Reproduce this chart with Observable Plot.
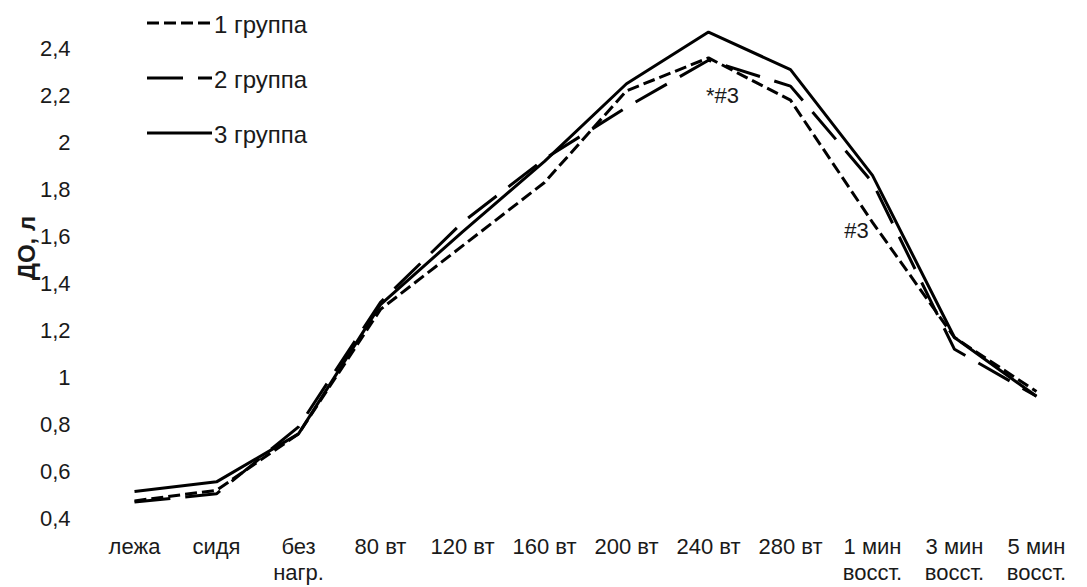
<!DOCTYPE html>
<html>
<head>
<meta charset="utf-8">
<script src="https://cdn.jsdelivr.net/npm/d3@7"></script>
<script src="https://cdn.jsdelivr.net/npm/@observablehq/plot@0.6"></script>
<style>
  html, body { margin: 0; padding: 0; background: #fff; }
  #wrap { position: relative; width: 1087px; height: 587px; overflow: hidden; }
  #legend { position: absolute; left: 0; top: 0; }
</style>
</head>
<body>
<div id="wrap"></div>
<script>
const categories = ["лежа", "сидя", "без\nнагр.", "80 вт", "120 вт", "160 вт", "200 вт", "240 вт", "280 вт", "1 мин\nвосст.", "3 мин\nвосст.", "5 мин\nвосст."];
const seriesNames = ["1 группа", "2 группа", "3 группа"];
const group1 = [0.475, 0.52, 0.76, 1.29, 1.56, 1.83, 2.22, 2.36, 2.18, 1.66, 1.17, 0.94];
const group2 = [0.47, 0.505, 0.79, 1.32, 1.66, 1.93, 2.15, 2.35, 2.24, 1.83, 1.12, 0.92];
const group3 = [0.515, 0.556, 0.76, 1.31, 1.62, 1.92, 2.25, 2.47, 2.31, 1.86, 1.17, 0.92];
const yTicks = [0.4, 0.6, 0.8, 1.0, 1.2, 1.4, 1.6, 1.8, 2.0, 2.2, 2.4];
const annotations = [
  {cat: "240 вт", v: 2.20, text: "*#3", dx: 14},
  {cat: "1 мин\nвосст.", v: 1.625, text: "#3", dx: -16}
];
const yTitle = "ДО, л";

const dashes = ["12,5", "36,15", null];
const allSeries = [group1, group2, group3];
const rows = (vals, name) => vals.map((v, i) => ({cat: categories[i], v, group: name}));
const fmt = d => String(+d.toFixed(1)).replace(".", ",");
const FONT = "'Liberation Sans', Arial, sans-serif";
const INK = "#1a1a1a";

const lineMarks = allSeries.map((vals, k) =>
  Plot.lineY(rows(vals, seriesNames[k]), {
    x: "cat", y: "v", stroke: "black", strokeWidth: 3,
    strokeDasharray: dashes[k] || undefined, strokeLinejoin: "miter", strokeLinecap: "butt"
  })
);

const chart = Plot.plot({
  width: 1087,
  height: 587,
  marginLeft: 93,
  marginRight: 10,
  marginTop: 48,
  marginBottom: 69,
  style: {fontFamily: FONT, fontSize: "22px", color: INK, background: "white", overflow: "visible"},
  x: {type: "point", domain: categories, padding: 0.5, label: null},
  y: {domain: [0.4, 2.4], label: null},
  marks: [
    Plot.ruleY(yTicks, {stroke: "#d9d9d9", strokeWidth: 1.3, x1: categories[0], x2: categories[categories.length - 1], insetLeft: -41, insetRight: -44}),
    Plot.axisY(yTicks, {tickSize: 0, tickPadding: 23, tickFormat: fmt, fontSize: 22}),
    Plot.axisX({tickSize: 0, tickPadding: 18, fontSize: 22, lineHeight: 1.15}),
    ...lineMarks,
    Plot.text(annotations, {x: "cat", y: "v", text: "text", fontSize: 22, fill: INK}),
  ]
});

const wrap = document.getElementById("wrap");
wrap.appendChild(chart);

const svg = d3.select(chart);
svg.selectAll("g[aria-label='text'] text").each(function(d, i) {
  const a = annotations[i];
  if (a) d3.select(this).attr("dx", a.dx);
});

// y axis title
svg.append("text")
  .attr("transform", "translate(35,248) rotate(-90)")
  .attr("text-anchor", "middle")
  .attr("font-family", FONT)
  .attr("font-weight", "bold")
  .attr("font-size", 24)
  .attr("fill", INK)
  .text(yTitle);

// legend overlay
const leg = d3.select(wrap).append("svg")
  .attr("id", "legend")
  .attr("width", 360).attr("height", 160);
const rowY = [23, 78, 133];
seriesNames.forEach((name, k) => {
  const g = leg.append("g");
  g.append("line")
    .attr("x1", 147).attr("x2", 212)
    .attr("y1", rowY[k]).attr("y2", rowY[k])
    .attr("stroke", "black").attr("stroke-width", 3)
    .attr("stroke-dasharray", dashes[k]);
  g.append("text")
    .attr("x", 214).attr("y", rowY[k] + 2)
    .attr("dy", "0.35em")
    .attr("font-family", FONT)
    .attr("font-size", 24)
    .attr("fill", INK)
    .text(name);
});
</script>
</body>
</html>
